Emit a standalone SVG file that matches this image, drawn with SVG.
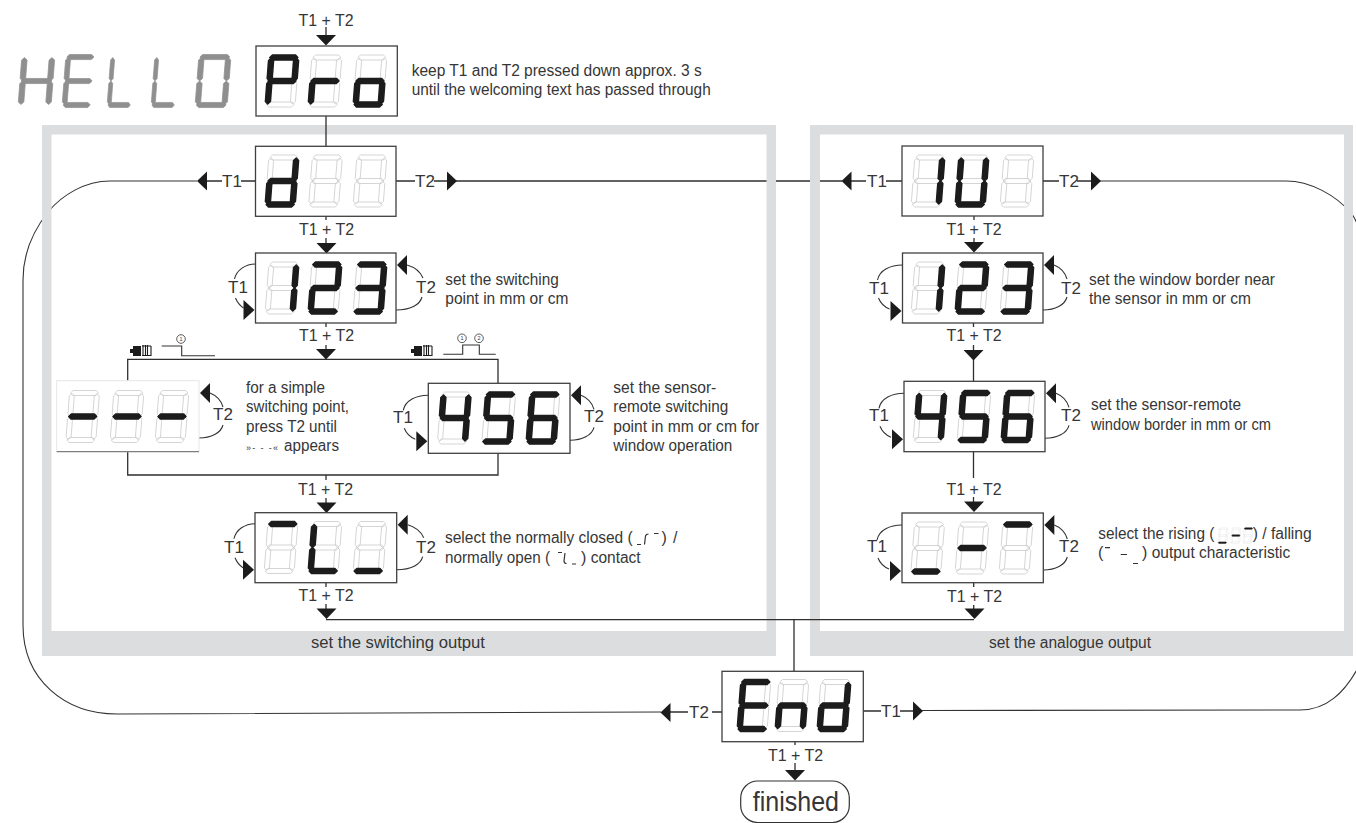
<svg xmlns="http://www.w3.org/2000/svg" width="1356" height="823" viewBox="0 0 1356 823">
<style>
text{font-family:"Liberation Sans",Arial,sans-serif;fill:#363636}
.t{font-size:16px}
.k{font-size:17px}
.box{fill:#fff;stroke:#3f3f3f;stroke-width:1.3}
.ghost{fill:none;stroke:#cbcbcb;stroke-width:.8}
.on{fill:#1c1c1c;stroke:#1c1c1c;stroke-width:1.5;stroke-linejoin:round}
.hello{fill:#8f8f8f;stroke:#8f8f8f;stroke-width:.7;stroke-linejoin:round}
.ln{fill:none;stroke:#2e2e2e;stroke-width:1.3}
.th{fill:none;stroke:#333;stroke-width:1.1}
.ar{fill:#1c1c1c}
.band{fill:#dcddde}
.mini{fill:none;stroke:#333;stroke-width:1.2}
</style>
<defs>
<polygon id="a" points="3.5,0 26.5,0 29,2.5 26.5,5 3.5,5 1,2.5"/>
<polygon id="b" points="27.5,3 30,5.5 30,23.5 27.5,26 25,23.5 25,5.5"/>
<polygon id="c" points="27.5,26 30,28.5 30,46.5 27.5,49 25,46.5 25,28.5"/>
<polygon id="d" points="3.5,47 26.5,47 29,49.5 26.5,52 3.5,52 1,49.5"/>
<polygon id="e" points="2.5,26 5,28.5 5,46.5 2.5,49 0,46.5 0,28.5"/>
<polygon id="f" points="2.5,3 5,5.5 5,23.5 2.5,26 0,23.5 0,5.5"/>
<polygon id="g" points="3.5,23.5 26.5,23.5 29,26 26.5,28.5 3.5,28.5 1,26"/>
<g id="G" class="ghost"><use href="#a"/><use href="#b"/><use href="#c"/><use href="#d"/><use href="#e"/><use href="#f"/><use href="#g"/></g>
<g id="c0" transform="skewX(-4.4)"><use href="#G"/></g>
<g id="cP" transform="skewX(-4.4)"><use href="#G"/><g class="on"><use href="#a"/><use href="#b"/><use href="#e"/><use href="#f"/><use href="#g"/></g></g>
<g id="cr" transform="skewX(-4.4)"><use href="#G"/><g class="on"><use href="#e"/><use href="#g"/></g></g>
<g id="co" transform="skewX(-4.4)"><use href="#G"/><g class="on"><use href="#c"/><use href="#d"/><use href="#e"/><use href="#g"/></g></g>
<g id="cd" transform="skewX(-4.4)"><use href="#G"/><g class="on"><use href="#b"/><use href="#c"/><use href="#d"/><use href="#e"/><use href="#g"/></g></g>
<g id="c1" transform="skewX(-4.4)"><use href="#G"/><g class="on"><use href="#b"/><use href="#c"/></g></g>
<g id="cU" transform="skewX(-4.4)"><use href="#G"/><g class="on"><use href="#b"/><use href="#c"/><use href="#d"/><use href="#e"/><use href="#f"/></g></g>
<g id="c2" transform="skewX(-4.4)"><use href="#G"/><g class="on"><use href="#a"/><use href="#b"/><use href="#g"/><use href="#e"/><use href="#d"/></g></g>
<g id="c3" transform="skewX(-4.4)"><use href="#G"/><g class="on"><use href="#a"/><use href="#b"/><use href="#g"/><use href="#c"/><use href="#d"/></g></g>
<g id="c4" transform="skewX(-4.4)"><use href="#G"/><g class="on"><use href="#f"/><use href="#g"/><use href="#b"/><use href="#c"/></g></g>
<g id="c5" transform="skewX(-4.4)"><use href="#G"/><g class="on"><use href="#a"/><use href="#f"/><use href="#g"/><use href="#c"/><use href="#d"/></g></g>
<g id="c6" transform="skewX(-4.4)"><use href="#G"/><g class="on"><use href="#a"/><use href="#f"/><use href="#g"/><use href="#e"/><use href="#c"/><use href="#d"/></g></g>
<g id="cm" transform="skewX(-4.4)"><use href="#G"/><g class="on"><use href="#g"/></g></g>
<g id="ct" transform="skewX(-4.4)"><use href="#G"/><g class="on"><use href="#a"/></g></g>
<g id="cb" transform="skewX(-4.4)"><use href="#G"/><g class="on"><use href="#d"/></g></g>
<g id="cL" transform="skewX(-4.4)"><use href="#G"/><g class="on"><use href="#f"/><use href="#e"/><use href="#d"/></g></g>
<g id="cE" transform="skewX(-4.4)"><use href="#G"/><g class="on"><use href="#a"/><use href="#f"/><use href="#g"/><use href="#e"/><use href="#d"/></g></g>
<g id="cn" transform="skewX(-4.4)"><use href="#G"/><g class="on"><use href="#e"/><use href="#g"/><use href="#c"/></g></g>
<polygon id="arD" class="ar" points="-10,0 10,0 0,10.500"/>
<polygon id="arL" class="ar" points="0,0 10,-9.500 10,9.500"/>
<polygon id="arR" class="ar" points="0,-9.500 10,0 0,9.500"/>
<g id="loopL"><path class="th" d="M0,11C-10,11 -19,17 -21,26M-20,45C-18,50 -15,53 -12,55"/><polygon class="ar" points="-1,57 -12,47 -12,67"/></g>
<g id="loopL2"><path class="th" d="M0,12C-12,12 -23,17 -25,27M-24,45C-22,50 -18,54 -13,56"/><polygon class="ar" points="-1,58 -12,48 -12,68"/></g>
<g id="loopR"><path class="th" d="M11,12C18,14 24,18 27,25M26,44C24,52 14,57 0,57"/><polygon class="ar" points="1,12 11,2 11,22"/></g>
<g id="loopR2"><path class="th" d="M11,12C16,14 22,19 24,26M24,44C22,52 12,57 0,57"/><polygon class="ar" points="1,12 11,2 11,22"/></g>
<g id="sensor"><rect x="3" y="1" width="8" height="10" fill="#1c1c1c"/><rect x="0" y="4" width="4" height="4" fill="#1c1c1c"/><path d="M13,0V11M15.500,0V11M17.500,0V11M21,1V11M12,1H21M12,10.500H21" fill="none" stroke="#1c1c1c" stroke-width="1.100"/></g>
</defs>

<g id="connectors-under">
<path class="th" d="M197,181H110C85,181 62,195 48,212C33,231 23,254 23,280V625C23,680 65,714 117,714L661,712"/>
<path class="ln" d="M456,181H842"/>
<path class="th" d="M1100,181H1286C1310,181 1336,195 1352,214C1356,220 1358,226 1362,234"/>
<path class="th" d="M922,710.500L1300,710C1325,710 1345,695 1362,660"/>
</g>

<g id="frame-switching">
<path class="band" fill-rule="evenodd" d="M42,125H776V656H42ZM51.500,134.500V631H766.500V134.500Z"/>
<text class="t" x="311" y="648" textLength="174" lengthAdjust="spacingAndGlyphs">set the switching output</text>
</g>
<g id="frame-analogue">
<path class="band" fill-rule="evenodd" d="M810,125H1353V656H810ZM820,134.500V631H1344V134.500Z"/>
<text class="t" x="989" y="648" textLength="162" lengthAdjust="spacingAndGlyphs">set the analogue output</text>
</g>

<g id="connectors">
<path class="ln" d="M326,27V36M326,116V146M326,216V220M326,238V244M326,323V327M326,345V350M127.700,381V359.300H498V383M127.700,452V475H498V453M326,475V480M326,498V503M326,583V587M326,604V609M326,619.600H974M794,619.600V671M974,216V220M974,238V243M973.500,323V327M973.500,345V351M973.500,359V381M973.500,452V478M973.500,497V502M973.700,583V587M973.700,605V609M795,742V745M795,763V771"/>
<path class="ln" d="M207,181H222M241,181H255.500M396,181H415M434,181H447M851,181H866M886,181H902M1043,181H1059M1077,181H1091M670,712H688M712,712H722M863,711H881M900,711H913"/>
<use href="#arD" x="326" y="35"/><use href="#arD" x="326.500" y="243"/><use href="#arD" x="326" y="349"/><use href="#arD" x="326.500" y="502.500"/><use href="#arD" x="326.500" y="608.500"/>
<use href="#arD" x="974" y="242"/><use href="#arD" x="973.500" y="350"/><use href="#arD" x="974" y="501.500"/><use href="#arD" x="974.500" y="608.500"/><use href="#arD" x="795" y="770"/>
<use href="#arL" x="197" y="181"/><use href="#arR" x="447" y="181"/><use href="#arL" x="841.500" y="181"/><use href="#arR" x="1091" y="181"/><use href="#arL" x="660.500" y="712.500"/><use href="#arR" x="913" y="711"/>
<use href="#loopL" x="255.500" y="253"/><use href="#loopR" x="396" y="253"/>
<use href="#loopR2" x="199" y="381"/>
<use href="#loopL2" x="428.300" y="383.300"/><use href="#loopR2" x="570" y="383.300"/>
<use href="#loopL" x="255" y="512.700"/><use href="#loopR" x="396.700" y="512.700"/>
<use href="#loopL2" x="902.500" y="253"/><use href="#loopR2" x="1043" y="253"/>
<use href="#loopL2" x="904" y="381.300"/><use href="#loopR2" x="1045" y="381.300"/>
<use href="#loopL2" x="902" y="513"/><use href="#loopR2" x="1043.300" y="513"/>
<g class="k">
<text x="298.500" y="25.500" textLength="55" lengthAdjust="spacingAndGlyphs">T1 + T2</text>
<text x="299" y="235" textLength="55" lengthAdjust="spacingAndGlyphs">T1 + T2</text>
<text x="299" y="341" textLength="55" lengthAdjust="spacingAndGlyphs">T1 + T2</text>
<text x="298" y="495" textLength="55" lengthAdjust="spacingAndGlyphs">T1 + T2</text>
<text x="298.500" y="600.700" textLength="55" lengthAdjust="spacingAndGlyphs">T1 + T2</text>
<text x="946.500" y="235" textLength="55" lengthAdjust="spacingAndGlyphs">T1 + T2</text>
<text x="946.500" y="341" textLength="55" lengthAdjust="spacingAndGlyphs">T1 + T2</text>
<text x="946.500" y="495" textLength="55" lengthAdjust="spacingAndGlyphs">T1 + T2</text>
<text x="947" y="601.500" textLength="55" lengthAdjust="spacingAndGlyphs">T1 + T2</text>
<text x="768" y="761" textLength="55" lengthAdjust="spacingAndGlyphs">T1 + T2</text>
<text x="222" y="187">T1</text><text x="415" y="187">T2</text><text x="867" y="187">T1</text><text x="1059" y="187">T2</text>
<text x="689" y="717.500">T2</text><text x="881" y="717">T1</text>
<text x="228" y="293">T1</text><text x="416" y="293">T2</text>
<text x="213" y="420">T2</text><text x="393" y="423">T1</text><text x="584" y="422">T2</text>
<text x="224" y="553">T1</text><text x="416" y="553">T2</text>
<text x="869" y="294">T1</text><text x="1061" y="294">T2</text>
<text x="869" y="421">T1</text><text x="1061" y="421">T2</text>
<text x="867" y="552">T1</text><text x="1059" y="552">T2</text>
</g>
</g>

<g id="hello">
<g transform="translate(22,54.500) skewX(-4.4) scale(1.1,1.02)" class="hello"><use href="#f"/><use href="#e"/><use href="#g"/><use href="#b"/><use href="#c"/></g>
<g transform="translate(66,54.500) skewX(-4.4) scale(.97,1.02)" class="hello"><use href="#a"/><use href="#f"/><use href="#g"/><use href="#e"/><use href="#d"/></g>
<g transform="translate(111,54.500) skewX(-4.4) scale(.8,1.02)" class="hello"><use href="#f"/><use href="#e"/><use href="#d"/></g>
<g transform="translate(155,54.500) skewX(-4.4) scale(.8,1.02)" class="hello"><use href="#f"/><use href="#e"/><use href="#d"/></g>
<g transform="translate(199,54.500) skewX(-4.4) scale(1.07,1.02)" class="hello"><use href="#a"/><use href="#b"/><use href="#c"/><use href="#d"/><use href="#e"/><use href="#f"/></g>
</g>

<g id="node-pro">
<rect class="box" x="256" y="46" width="141.300" height="70"/>
<use href="#cP" x="269" y="55"/><use href="#cr" x="312" y="55"/><use href="#co" x="357" y="55"/>
<text class="t" x="411.700" y="75.700" textLength="290" lengthAdjust="spacingAndGlyphs">keep T1 and T2 pressed down approx. 3 s</text>
<text class="t" x="411.700" y="95" textLength="299" lengthAdjust="spacingAndGlyphs">until the welcoming text has passed through</text>
</g>
<g id="node-d">
<rect class="box" x="255.500" y="146.300" width="140.500" height="70"/>
<use href="#cd" x="269" y="155"/><use href="#c0" x="312.500" y="155"/><use href="#c0" x="357" y="155"/>
</g>
<g id="node-123-switching">
<rect class="box" x="255.500" y="253" width="140.500" height="70"/>
<use href="#c1" x="269" y="262"/><use href="#c2" x="312" y="262"/><use href="#c3" x="357" y="262"/>
<text class="t" x="445.300" y="285" textLength="113.400" lengthAdjust="spacingAndGlyphs">set the switching</text>
<text class="t" x="445.300" y="304.300" textLength="123" lengthAdjust="spacingAndGlyphs">point in mm or cm</text>
</g>
<g id="node-dashes">
<rect x="56.700" y="380.700" width="142.300" height="71" fill="#fff" stroke="#e6e6e6" stroke-width="1"/>
<path d="M56.700,451.700H199" stroke="#666" stroke-width="1" fill="none"/>
<use href="#cm" x="69.700" y="390.500"/><use href="#cm" x="114" y="390.500"/><use href="#cm" x="159" y="390.500"/>
<text class="t" x="246" y="393.300" textLength="79" lengthAdjust="spacingAndGlyphs">for a simple</text>
<text class="t" x="246" y="412.300" textLength="103" lengthAdjust="spacingAndGlyphs">switching point,</text>
<text class="t" x="246" y="431.700" textLength="91" lengthAdjust="spacingAndGlyphs">press T2 until</text>
<text x="246" y="451" font-size="9" textLength="32" lengthAdjust="spacing">»- - -«</text>
<text class="t" x="284" y="451" textLength="55" lengthAdjust="spacingAndGlyphs">appears</text>
</g>
<g id="node-456-switching">
<rect class="box" x="428.300" y="383.300" width="141.700" height="70"/>
<use href="#c4" x="441.300" y="392"/><use href="#c5" x="485.700" y="392"/><use href="#c6" x="530" y="392"/>
<text class="t" x="613.300" y="393.300" textLength="103" lengthAdjust="spacingAndGlyphs">set the sensor-</text>
<text class="t" x="613.300" y="412.300" textLength="115" lengthAdjust="spacingAndGlyphs">remote switching</text>
<text class="t" x="613.300" y="431.700" textLength="146" lengthAdjust="spacingAndGlyphs">point in mm or cm for</text>
<text class="t" x="613.300" y="451" textLength="119" lengthAdjust="spacingAndGlyphs">window operation</text>
<use href="#sensor" x="130" y="345"/>
<path class="th" d="M161.700,346H181.700V355.700H215"/>
<circle cx="181" cy="339" r="4.300" fill="#fff" stroke="#333" stroke-width=".8"/>
<text x="181" y="341" font-size="5.500" text-anchor="middle">1</text>
<use href="#sensor" x="411" y="345"/>
<path class="th" d="M443.300,354.300H462.700V345H479.300V354.300H495.700"/>
<circle cx="462" cy="338.300" r="4.300" fill="#fff" stroke="#333" stroke-width=".8"/>
<text x="462" y="340.300" font-size="5.500" text-anchor="middle">1</text>
<circle cx="479" cy="338.300" r="4.300" fill="#fff" stroke="#333" stroke-width=".8"/>
<text x="479" y="340.300" font-size="5.500" text-anchor="middle">2</text>
</g>
<g id="node-contact">
<rect class="box" x="255" y="512.700" width="141.700" height="70"/>
<use href="#ct" x="268" y="521.500"/><use href="#cL" x="312" y="521.500"/><use href="#cb" x="357" y="521.500"/>
<text class="t" x="445" y="543.300" textLength="187.700" lengthAdjust="spacingAndGlyphs">select the normally closed (</text>
<path class="mini" d="M637,544.500H641M644.500,544.500L645.500,536Q646,534 648.500,534M654,533.500H658.500"/>
<text class="t" x="661.500" y="543.300" textLength="16" lengthAdjust="spacing">) /</text>
<text class="t" x="445" y="563.300" textLength="105" lengthAdjust="spacingAndGlyphs">normally open (</text>
<path class="mini" d="M558,552.500H562M565,553L564,561Q564,563.500 566.500,563.500M572,564H576"/>
<text class="t" x="581" y="563.300">)</text>
<text class="t" x="590.700" y="563.300" textLength="50" lengthAdjust="spacingAndGlyphs">contact</text>
</g>
<g id="node-1U">
<rect class="box" x="902" y="146" width="141" height="70"/>
<use href="#c1" x="915" y="155"/><use href="#cU" x="959" y="155"/><use href="#c0" x="1004" y="155"/>
</g>
<g id="node-123-analogue">
<rect class="box" x="902.500" y="253" width="140.500" height="70"/>
<use href="#c1" x="915" y="262"/><use href="#c2" x="959" y="262"/><use href="#c3" x="1004" y="262"/>
<text class="t" x="1089" y="285" textLength="186" lengthAdjust="spacingAndGlyphs">set the window border near</text>
<text class="t" x="1089" y="304.300" textLength="162" lengthAdjust="spacingAndGlyphs">the sensor in mm or cm</text>
</g>
<g id="node-456-analogue">
<rect class="box" x="904" y="381.300" width="141" height="70.400"/>
<use href="#c4" x="917" y="390.500"/><use href="#c5" x="961" y="390.500"/><use href="#c6" x="1005" y="390.500"/>
<text class="t" x="1091" y="410" textLength="150" lengthAdjust="spacingAndGlyphs">set the sensor-remote</text>
<text class="t" x="1091" y="430" textLength="180" lengthAdjust="spacingAndGlyphs">window border in mm or cm</text>
</g>
<g id="node-characteristic">
<rect class="box" x="902" y="513" width="141.300" height="69.700"/>
<use href="#cb" x="914.700" y="522"/><use href="#cm" x="959" y="522"/><use href="#ct" x="1003" y="522"/>
<text class="t" x="1098.300" y="539.300" textLength="116" lengthAdjust="spacingAndGlyphs">select the rising (</text>
<g transform="translate(1219,527.800) scale(.3)"><use href="#cb"/></g>
<g transform="translate(1232,527.800) scale(.3)"><use href="#cm"/></g>
<g transform="translate(1244,527.800) scale(.3)"><use href="#ct"/></g>
<text class="t" x="1252.700" y="539.300" textLength="59" lengthAdjust="spacingAndGlyphs">) / falling</text>
<text class="t" x="1098" y="558">(</text>
<path class="mini" d="M1105,547.700H1110M1120.700,554.500H1127M1133,563.500H1138"/>
<text class="t" x="1142" y="558">)</text>
<text class="t" x="1151.700" y="558" textLength="138.500" lengthAdjust="spacingAndGlyphs">output characteristic</text>
</g>
<g id="node-end">
<rect class="box" x="722" y="671.300" width="141.300" height="70.400"/>
<use href="#cE" x="741" y="679.500"/><use href="#cn" x="779" y="679.500"/><use href="#cd" x="821" y="679.500"/>
</g>
<g id="node-finished">
<rect x="740.700" y="781" width="108.600" height="41.500" rx="17" fill="#fff" stroke="#333" stroke-width="1.200"/>
<text x="752.700" y="811" font-size="27" textLength="86.300" lengthAdjust="spacingAndGlyphs">finished</text>
</g>
</svg>
